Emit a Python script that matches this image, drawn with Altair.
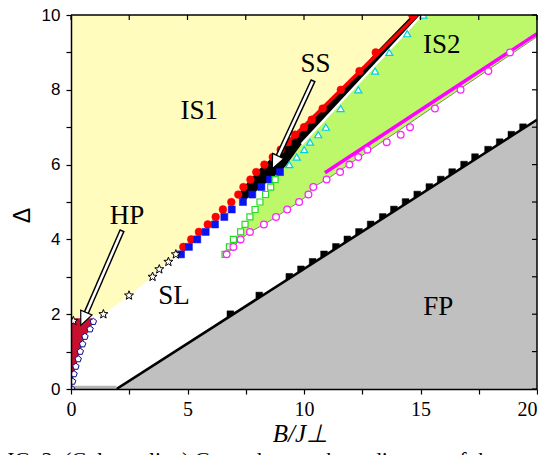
import math
import pandas as pd
import altair as alt

W, H = 466, 374

# ---------------- data ----------------
x_ticks = [0, 2.5, 5, 7.5, 10, 12.5, 15, 17.5, 20]
y_ticks = [0, 1, 2, 3, 4, 5, 6, 7, 8, 9, 10]

# red filled circles
red_x = [4.82, 5.16, 5.49, 5.87, 6.21, 6.52, 6.88, 7.18, 7.4, 7.7, 7.95, 8.3, 8.66, 9.0, 9.3, 9.62, 10.0, 10.33, 10.8, 11.58, 12.38, 13.08, 14.65]
red_y = [3.8, 4.0, 4.2, 4.4, 4.6, 4.8, 5.0, 5.2, 5.4, 5.6, 5.8, 6.0, 6.2, 6.4, 6.6, 6.8, 7.0, 7.2, 7.5, 8.0, 8.5, 9.0, 10.0]
# blue filled squares
blue_x = [4.72, 5.06, 5.42, 5.78, 6.18, 6.58, 6.9, 7.38, 7.78, 8.17, 8.54, 8.97]
blue_y = [3.6, 3.8, 4.0, 4.2, 4.4, 4.6, 4.8, 5.0, 5.2, 5.4, 5.6, 5.8]
# open stars
star_x = [0.1, 1.39, 2.49, 3.5, 3.79, 4.18, 4.5]
star_y = [1.82, 2.0, 2.5, 3.0, 3.2, 3.4, 3.6]
# open pentagons (HP boundary)
pent_x = [0.03, 0.07, 0.13, 0.21, 0.31, 0.4, 0.5, 0.6, 0.82, 0.96]
pent_y = [0.0, 0.2, 0.4, 0.6, 0.8, 1.0, 1.2, 1.4, 1.6, 1.8]
# open green squares
gsq_x = [6.61, 6.8, 6.97, 7.28, 7.47, 7.68, 7.9, 8.11, 8.35, 8.57, 8.76]
gsq_y = [3.6, 3.8, 4.0, 4.2, 4.4, 4.6, 4.8, 5.0, 5.2, 5.4, 5.6]
# open cyan triangles
tri_x = [9.37, 9.69, 10.01, 10.26, 10.61, 10.94, 11.57, 12.33, 13.05, 13.66, 14.43, 15.12]
tri_y = [6.0, 6.2, 6.4, 6.6, 6.8, 7.0, 7.5, 8.0, 8.5, 9.0, 9.5, 10.0]
# open magenta circles
mag_x = [6.68, 6.97, 7.28, 7.68, 8.28, 8.8, 9.28, 9.79, 10.19, 10.4, 10.97, 11.55, 11.95, 12.33, 12.72, 13.55, 14.15, 14.55, 15.62, 16.72, 17.91, 18.84]
mag_y = [3.6, 3.8, 4.0, 4.2, 4.4, 4.6, 4.8, 5.0, 5.2, 5.4, 5.6, 5.8, 6.0, 6.2, 6.4, 6.6, 6.8, 7.0, 7.5, 8.0, 8.5, 9.0]
# black filled squares (FP boundary)
bsq_x = [6.84, 8.08, 9.37, 9.87, 10.37, 10.86, 11.37, 11.86, 12.36, 12.86, 13.38, 13.86, 14.36, 14.86, 15.38, 15.87, 16.36, 16.87, 17.34, 17.9, 18.4, 18.9, 19.4]
bsq_y = [2.0, 2.5, 3.0, 3.2, 3.4, 3.6, 3.8, 4.0, 4.2, 4.4, 4.6, 4.8, 5.0, 5.2, 5.4, 5.6, 5.8, 6.0, 6.2, 6.4, 6.6, 6.8, 7.0]

# straight boundary lines
fp_line_x = [1.95, 20.0]
fp_line_y = [0.0, 7.2]
mag_line_x = [10.9, 20.0]
mag_line_y = [5.78, 9.5]
red_line_x = [8.9, 14.85]
red_line_y = [6.35, 10.0]
white_line_x = [9.9, 15.05]
white_line_y = [6.55, 10.0]
base_line_x = [0.0, 1.95]
base_line_y = [0.04, 0.04]

# region outlines
is1_x = [0, 0, 1.39, 2.49, 3.5, 3.79, 4.18, 4.5] + blue_x + [15.0]
is1_y = [10, 1.89, 2.0, 2.5, 3.0, 3.2, 3.4, 3.6] + blue_y + [10.0]
hp_x = [0, 0.03, 0.07, 0.13, 0.21, 0.31, 0.4, 0.5, 0.6, 0.82, 0.96, 0.92, 0]
hp_y = [0, 0.0, 0.2, 0.4, 0.6, 0.8, 1.0, 1.2, 1.4, 1.6, 1.8, 1.89, 1.89]
is2_upper_x = gsq_x + [8.97, 9.9, 15.0, 20.0]
is2_upper_y = gsq_y + [5.8, 6.55, 10.0, 10.0]
is2_lower_x = mag_x[:11] + [20.0]
is2_lower_y = mag_y[:11] + [9.42]
ss_x = [7.18, 7.4, 7.7, 7.95, 8.3, 8.66, 9.0, 9.3, 9.62, 10.0, 10.8, 11.58, 12.38, 13.08, 14.65, 15.0, 9.9, 9.2, 8.97, 8.54, 8.17, 7.78, 7.38]
ss_y = [5.2, 5.4, 5.6, 5.8, 6.0, 6.2, 6.4, 6.6, 6.8, 7.0, 7.5, 8.0, 8.5, 9.0, 10.0, 10.0, 6.55, 5.95, 5.8, 5.6, 5.4, 5.2, 5.0]
fp_x = [1.95, 20.0, 20.0]
fp_y = [0.0, 7.2, 0.0]

# labels
lab_text = ["IS1", "SS", "IS2", "HP", "SL", "FP"]
lab_x = [5.5, 10.49, 15.91, 2.4, 4.42, 15.76]
lab_y = [7.43, 8.69, 9.21, 4.63, 2.48, 2.19]

# arrows (tail -> tip)
arr_tail_x = [2.2, 10.4]
arr_tail_y = [4.25, 8.26]
arr_tip_x = [0.42, 8.64]
arr_tip_y = [1.7, 5.89]

caption = "FIG. 2: (Color online) Ground-state phase diagram of the"

# ---------------- scales / axes ----------------
xs = alt.Scale(domain=[0, 20], nice=False, zero=False)
ys = alt.Scale(domain=[0, 10], nice=False, zero=False)
AXX = alt.Axis(values=x_ticks, labelExpr="datum.value % 5 === 0 ? datum.label : ''",
               labelAlign={"condition": {"test": "datum.value === 20", "value": "right"}, "value": "center"},
               grid=False, tickSize=5, tickWidth=1.2, tickColor="black",
               domainColor="black", domainWidth=1.5, labelFont="Liberation Serif",
               labelFontSize=20, labelColor="black", labelPadding=5, labelFlush=False,
               labelOverlap=False, titleFont="Liberation Serif", titleFontStyle="italic",
               titleFontWeight="normal", titleFontSize=25, titleColor="black",
               titleX=229, titleY=52, titleBaseline="alphabetic", titleAnchor="middle", zindex=1)
AXY = alt.Axis(values=y_ticks, labelExpr="datum.value % 2 === 0 ? datum.label : ''",
               grid=False, tickSize=5, tickWidth=1.2, tickColor="black",
               domainColor="black", domainWidth=1.5, labelFont="Liberation Sans",
               labelFontSize=17, labelColor="black", labelPadding=6,
               labelOverlap=False, labelFlush=False, titleFont="Liberation Sans",
               titleFontWeight="normal", titleFontSize=23, titleColor="black",
               titleAngle=270, titleX=-49, titleY=200, titleAlign="center",
               titleBaseline="middle", zindex=1)
X = alt.X("x:Q", scale=xs, title="B/J⊥", axis=AXX)
Y = alt.Y("y:Q", scale=ys, title="Δ", axis=AXY)


def df(xv, yv):
    return pd.DataFrame({"x": xv, "y": yv, "o": list(range(len(xv)))})


def poly(xv, yv, color):
    return alt.Chart(df(xv, yv)).mark_line(filled=True, color=color, clip=True).encode(
        x=X, y=Y, order="o:Q")


def line(xv, yv, color, width):
    return alt.Chart(df(xv, yv)).mark_line(color=color, strokeWidth=width, clip=True, strokeCap="butt").encode(
        x=X, y=Y, order="o:Q")


def pts(xv, yv, shape, size, fill, stroke, sw=1.0):
    return alt.Chart(df(xv, yv)).mark_point(shape=shape, size=size, filled=True, fill=fill,
                                             stroke=stroke, strokeWidth=sw, opacity=1, clip=True).encode(x=X, y=Y)


pent_path = "M0,-1L0.951,-0.309L0.588,0.809L-0.588,0.809L-0.951,-0.309Z"
sp = []
for k in range(10):
    r = 1.0 if k % 2 == 0 else 0.42
    a = math.radians(-90 + 36 * k)
    sp.append(f"{r*math.cos(a):.3f},{r*math.sin(a):.3f}")
star_path = "M" + "L".join(sp) + "Z"
head_path = "M0,0L-0.55,1.25L0.55,1.25Z"

# ---------------- layers ----------------
layers = []
layers.append(poly(is1_x, is1_y, "#FFFCBE"))
layers.append(poly(is2_upper_x + is2_lower_x[::-1], is2_upper_y + is2_lower_y[::-1], "#BDF76A"))
layers.append(poly(hp_x, hp_y, "#C8102E"))
layers.append(pts(bsq_x, bsq_y, "square", 45, "black", "black", 0.5))
layers.append(poly(fp_x, fp_y, "#C0C0C0"))
layers.append(line(fp_line_x, fp_line_y, "black", 2.6))
layers.append(line(base_line_x, base_line_y, "#B4B4B4", 3.5))
layers.append(line(is2_lower_x, is2_lower_y, "#7D8C6E", 1.0))
layers.append(poly(ss_x, ss_y, "black"))
layers.append(line(white_line_x, white_line_y, "white", 2.5))
layers.append(line(red_line_x, red_line_y, "#FF0000", 3.5))
layers.append(line(mag_line_x, mag_line_y, "#FF00FF", 3.5))

layers.append(pts(red_x, red_y, "circle", 60, "#FF0000", "#FF0000", 0.5))
layers.append(pts(blue_x, blue_y, "square", 50, "#0A14F0", "#0A14F0", 0.5))
layers.append(pts(star_x, star_y, star_path, 90, "white", "black", 1.0))
layers.append(pts(pent_x, pent_y, pent_path, 45, "white", "#0A0A8C", 1.0))
layers.append(pts(gsq_x, gsq_y, "square", 36, "white", "#22DD22", 1.2))
layers.append(pts(tri_x, tri_y, "triangle-up", 50, "white", "#00D0E0", 1.2))
layers.append(pts(mag_x, mag_y, "circle", 45, "white", "#FF22FF", 1.3))

# arrows
PX, PY = W / 20.0, H / 10.0
head_len = 13.0
ang, bx, by, wx, wy = [], [], [], [], []
for tx, ty, px_, py_ in zip(arr_tail_x, arr_tail_y, arr_tip_x, arr_tip_y):
    dx = (px_ - tx) * PX
    dy = -(py_ - ty) * PY
    L = math.hypot(dx, dy)
    ux, uy = dx / L, dy / L
    ang.append((math.degrees(math.atan2(dx, -dy)) + 360) % 360)
    bx.append(px_ - (head_len - 1) * ux / PX)
    by.append(py_ + (head_len - 1) * uy / PY)
    wx.append(tx + 1.6 * ux / PX)
    wy.append(ty - 1.6 * uy / PY)
for i in range(2):
    layers.append(line([arr_tail_x[i], bx[i]], [arr_tail_y[i], by[i]], "black", 5.5))
    layers.append(line([wx[i], bx[i]], [wy[i], by[i]], "white", 2.6))
head_df = pd.DataFrame({"x": arr_tip_x, "y": arr_tip_y, "a": ang})
layers.append(alt.Chart(head_df).mark_point(shape=head_path, size=500, filled=True, fill="white",
                                            stroke="black", strokeWidth=1.2, opacity=1).encode(
    x=X, y=Y, angle=alt.Angle("a:Q", scale=None)))

# region labels
lab_df = pd.DataFrame({"x": lab_x, "y": lab_y, "t": lab_text})
layers.append(alt.Chart(lab_df).mark_text(font="Liberation Serif", fontSize=27, color="black",
                                          align="center", baseline="middle").encode(x=X, y=Y, text="t:N"))

# frame (top / right) and inward ticks
layers.append(alt.Chart(pd.DataFrame({"v": [0]})).mark_rule(color="black", strokeWidth=1.5).encode(
    x=alt.value(0), x2=alt.value(W), y=alt.value(0)))
layers.append(alt.Chart(pd.DataFrame({"v": [0]})).mark_rule(color="black", strokeWidth=1.5).encode(
    x=alt.value(W), y=alt.value(0), y2=alt.value(H)))
layers.append(alt.Chart(pd.DataFrame({"x": x_ticks})).mark_rule(color="black", strokeWidth=1.2).encode(
    x=X, y=alt.value(0), y2=alt.value(5)))
layers.append(alt.Chart(pd.DataFrame({"y": y_ticks})).mark_rule(color="black", strokeWidth=1.2).encode(
    y=Y, x=alt.value(W - 5), x2=alt.value(W)))

# caption (partly below the window, as in the reference)
layers.append(alt.Chart(pd.DataFrame({"t": [caption]})).mark_text(
    font="Liberation Serif", fontSize=22, color="black", align="left", baseline="alphabetic").encode(
    x=alt.value(-76), y=alt.value(452), text="t:N"))

chart = alt.layer(*layers).properties(
    width=W, height=H,
    autosize=alt.AutoSizeParams(type="none"),
    padding={"left": 63, "top": 7, "right": 1, "bottom": 82},
    background="white",
).configure_view(stroke=None)

chart.save("out.html", embed_options={"renderer": "svg", "actions": False})
